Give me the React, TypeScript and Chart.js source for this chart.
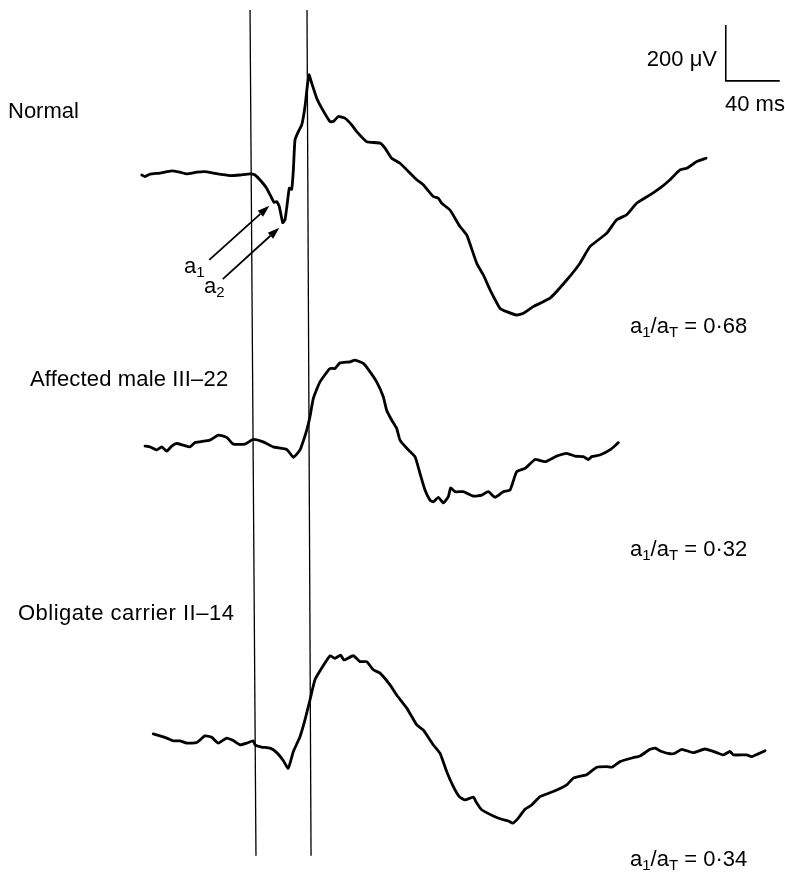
import { useEffect, useRef } from "react";
import { Chart, registerables } from "chart.js";

Chart.register(...registerables);

// Time (ms, 0 = first marker) and amplitude (µV, relative to each trace's baseline)
const NORMAL_T = [-82.4, -80.0, -76.3, -68.9, -60.2, -54.1, -49.1, -41.7, -35.6, -29.6, -17.0, -9.6, -2.2, 1.5, 6.4, 10.1, 13.9, 15.6, 17.6, 19.5, 22.0, 23.7, 25.4, 26.9, 28.7, 29.9, 31.1, 33.6, 36.1, 38.5, 40.2, 41.5, 43.5, 47.2, 50.9, 57.0, 59.5, 63.2, 68.1, 73.1, 76.8, 84.2, 94.1, 97.8, 102.7, 108.9, 121.3, 126.1, 133.5, 137.3, 139.8, 145.9, 153.3, 158.3, 165.7, 170.6, 175.6, 183.0, 187.9, 195.3, 200.2, 207.6, 220.0, 232.4, 242.2, 249.6, 262.0, 269.4, 276.8, 284.2, 294.1, 301.5, 308.9, 316.3, 321.3, 328.7, 335.6];
const NORMAL_UV = [-4, -10, -1, 3, 11, 6, 0, 6, 8, 3, -6, -4, 0, -4, -28, -51, -87, -102, -99, -117, -174, -164, -105, -51, -55, 14, 121, 151, 175, 240, 312, 354, 324, 270, 235, 187, 187, 205, 199, 175, 151, 115, 110, 92, 56, 38, -21, -39, -81, -87, -105, -129, -188, -218, -319, -361, -414, -480, -492, -504, -498, -474, -444, -379, -319, -260, -212, -164, -146, -105, -75, -51, -21, 14, 20, 44, 56];

const AFFECTED_T = [-80.0, -76.3, -71.3, -67.6, -63.9, -60.2, -56.5, -51.6, -46.7, -43.0, -31.9, -25.7, -19.5, -14.6, -5.9, 0.2, 7.6, 15.0, 25.0, 29.9, 34.8, 39.8, 42.2, 44.7, 49.6, 57.0, 60.7, 64.4, 71.9, 75.6, 81.7, 86.7, 91.6, 96.5, 99.0, 102.7, 106.4, 108.9, 113.9, 120.0, 123.7, 127.4, 131.1, 133.6, 137.3, 141.0, 144.7, 146.4, 149.6, 155.8, 163.2, 169.4, 174.3, 179.3, 185.4, 190.4, 195.3, 201.5, 208.9, 216.3, 224.9, 232.4, 238.5, 244.7, 248.4, 250.9, 257.0, 264.4, 270.6];
const AFFECTED_UV = [-7, -10, -21, -10, -25, -7, 2, -4, -10, 5, 14, 32, 24, 0, 0, 17, 8, -10, -19, -47, -21, 50, 98, 163, 222, 270, 270, 290, 294, 300, 288, 258, 222, 169, 121, 86, 56, 14, -15, -45, -105, -164, -200, -206, -190, -210, -188, -156, -170, -170, -186, -182, -170, -190, -170, -164, -99, -87, -55, -63, -43, -33, -43, -45, -55, -45, -39, -21, 5];

const CARRIER_T = [-73.9, -68.9, -63.9, -59.0, -54.1, -49.1, -41.7, -35.6, -30.6, -25.7, -19.5, -14.6, -9.6, -4.7, 0.2, 1.5, 6.4, 12.6, 17.6, 22.4, 26.1, 29.9, 34.8, 38.5, 42.2, 45.9, 50.9, 57.0, 60.7, 64.9, 67.4, 74.3, 79.3, 84.2, 89.1, 94.1, 101.5, 106.4, 113.9, 121.3, 126.1, 133.5, 138.5, 143.5, 148.4, 152.8, 157.0, 163.2, 165.7, 169.4, 178.0, 184.2, 189.1, 192.4, 196.5, 201.5, 206.4, 212.6, 222.4, 232.4, 237.3, 243.5, 247.2, 254.6, 262.0, 265.7, 271.9, 281.7, 286.7, 294.1, 297.8, 302.7, 308.9, 312.6, 317.6, 326.2, 334.8, 343.5, 348.4, 353.3, 355.8, 365.7, 369.4, 379.3];
const CARRIER_UV = [25, 18, 10, 0, 0, -8, -6, 18, 13, -8, 10, 1, -14, -8, 0, -14, -22, -26, -42, -70, -98, -38, 15, 75, 146, 218, 260, 304, 295, 306, 289, 304, 283, 283, 254, 242, 200, 164, 117, 57, 39, -14, -44, -110, -163, -199, -211, -201, -222, -246, -268, -280, -286, -294, -276, -244, -229, -199, -181, -157, -133, -125, -121, -94, -92, -94, -74, -60, -54, -30, -26, -38, -46, -44, -30, -42, -29, -42, -50, -38, -50, -50, -56, -35];

const TRACE_LABELS = ["Normal", "Affected male III\u201322", "Obligate carrier II\u201314"];
const RATIO_VALUES = ["0\u00b768", "0\u00b732", "0\u00b734"];

// Marker lines (ms at top / bottom of the figure)
const MARKER_TOP_MS = [-2.2, 40.0];
const MARKER_BOTTOM_MS = [2.2, 43.0];

// Calibration bar
const BAR_MS = 40;
const BAR_UV = 200;

// ---- layout (not data) ----
const W = 785;
const H = 873;
const PX_PER_MS = 54 / 40;
const PX_PER_UV = 56 / 200;
const ORIGIN_PX = 253;
const X_MIN = -ORIGIN_PX / PX_PER_MS;
const X_MAX = (W - ORIGIN_PX) / PX_PER_MS;
const Y_MAX = 0;
const Y_MIN = -H / PX_PER_UV;
const OFFSETS = [-621, -1586, -2646];
const MARKER_Y = [-36, -3056];
const BAR_CORNER = { x: 350.2, y: -289 };

// arrows (ms, µV relative to the normal trace's baseline): tail -> tip
const ARROWS = [
  { from: [-32.4, -307], to: [12.1, -114] },
  { from: [-22.4, -376], to: [19.5, -192] },
];

const FONT = "Liberation Sans, Arial, Helvetica, sans-serif";

function traceData(ts: number[], vs: number[], off: number) {
  return ts.map((t, i) => ({ x: t, y: vs[i] + off }));
}

const textPlugin = {
  id: "figText",
  afterDraw(chart: any) {
    const ctx: any = chart.ctx;
    const xs = chart.scales.x;
    const ys = chart.scales.y;
    ctx.save();
    ctx.fillStyle = "#000";
    ctx.strokeStyle = "#000";
    ctx.textBaseline = "alphabetic";
    const big = `22px ${FONT}`;
    const sub = `15px ${FONT}`;

    // trace labels
    ctx.font = big;
    ctx.textAlign = "left";
    const labelPos = [
      [8, 118, "0px"],
      [30, 386, "0.15px"],
      [18, 620, "0.5px"],
    ];
    TRACE_LABELS.forEach((s, i) => {
      ctx.letterSpacing = labelPos[i][2];
      ctx.fillText(s, labelPos[i][0], labelPos[i][1]);
    });
    ctx.letterSpacing = "0px";

    // calibration text
    ctx.textAlign = "right";
    ctx.fillText(`${BAR_UV} \u03bcV`, 717, 66);
    ctx.textAlign = "left";
    ctx.fillText(`${BAR_MS} ms`, 725, 111);

    // ratio labels
    const ratioY = [333, 556, 866];
    RATIO_VALUES.forEach((v, i) => {
      let x = 630;
      const y = ratioY[i];
      const put = (s: string, f: string, dy: number) => {
        ctx.font = f;
        ctx.fillText(s, x, y + dy);
        x += ctx.measureText(s).width;
      };
      put("a", big, 0);
      put("1", sub, 4);
      put("/a", big, 0);
      put("T", sub, 4);
      put(` = ${v}`, big, 0);
    });

    // a1 / a2 labels
    const lab = (x: number, y: number, s: string) => {
      ctx.font = big;
      ctx.fillText("a", x, y);
      const w = ctx.measureText("a").width;
      ctx.font = sub;
      ctx.fillText(s, x + w, y + 4);
    };
    lab(184, 273, "1");
    lab(204, 293, "2");

    // arrows
    ARROWS.forEach((a) => {
      const x1 = xs.getPixelForValue(a.from[0]);
      const y1 = ys.getPixelForValue(a.from[1] + OFFSETS[0]);
      const x2 = xs.getPixelForValue(a.to[0]);
      const y2 = ys.getPixelForValue(a.to[1] + OFFSETS[0]);
      const ang = Math.atan2(y2 - y1, x2 - x1);
      const L = 12;
      const hw = 4;
      const bx = x2 - L * Math.cos(ang);
      const by = y2 - L * Math.sin(ang);
      ctx.lineWidth = 1.8;
      ctx.beginPath();
      ctx.moveTo(x1, y1);
      ctx.lineTo(bx, by);
      ctx.stroke();
      ctx.beginPath();
      ctx.moveTo(x2, y2);
      ctx.lineTo(bx + hw * Math.sin(ang), by - hw * Math.cos(ang));
      ctx.lineTo(bx - hw * Math.sin(ang), by + hw * Math.cos(ang));
      ctx.closePath();
      ctx.fill();
    });
    ctx.restore();
  },
};

export default function App() {
  const ref = useRef<HTMLCanvasElement | null>(null);
  useEffect(() => {
    document.body.style.margin = "0";
    if (!ref.current) return;
    const traceStyle = {
      borderColor: "#000",
      borderWidth: 2.8,
      pointRadius: 0,
      tension: 0.15,
      borderJoinStyle: "round" as const,
      borderCapStyle: "round" as const,
      fill: false,
    };
    const thin = {
      borderColor: "#000",
      borderWidth: 1.3,
      pointRadius: 0,
      tension: 0,
      fill: false,
    };
    const chart = new Chart(ref.current, {
      type: "line",
      data: {
        datasets: [
          { ...traceStyle, data: traceData(NORMAL_T, NORMAL_UV, OFFSETS[0]) },
          { ...traceStyle, data: traceData(AFFECTED_T, AFFECTED_UV, OFFSETS[1]) },
          { ...traceStyle, data: traceData(CARRIER_T, CARRIER_UV, OFFSETS[2]) },
          ...MARKER_TOP_MS.map((t, i) => ({
            ...thin,
            data: [
              { x: t, y: MARKER_Y[0] },
              { x: MARKER_BOTTOM_MS[i], y: MARKER_Y[1] },
            ],
          })),
          {
            ...thin,
            borderWidth: 1.6,
            data: [
              { x: BAR_CORNER.x, y: BAR_CORNER.y + BAR_UV },
              { x: BAR_CORNER.x, y: BAR_CORNER.y },
              { x: BAR_CORNER.x + BAR_MS, y: BAR_CORNER.y },
            ],
          },
        ],
      },
      options: {
        animation: false,
        responsive: false,
        events: [],
        layout: { padding: 0 },
        plugins: { legend: { display: false }, tooltip: { enabled: false } },
        scales: {
          x: { type: "linear", min: X_MIN, max: X_MAX, display: false },
          y: { type: "linear", min: Y_MIN, max: Y_MAX, display: false },
        },
      },
      plugins: [textPlugin],
    });
    return () => chart.destroy();
  }, []);
  return (
    <canvas
      ref={ref}
      width={W}
      height={H}
      style={{ display: "block", width: W, height: H, background: "#fff" }}
    />
  );
}
